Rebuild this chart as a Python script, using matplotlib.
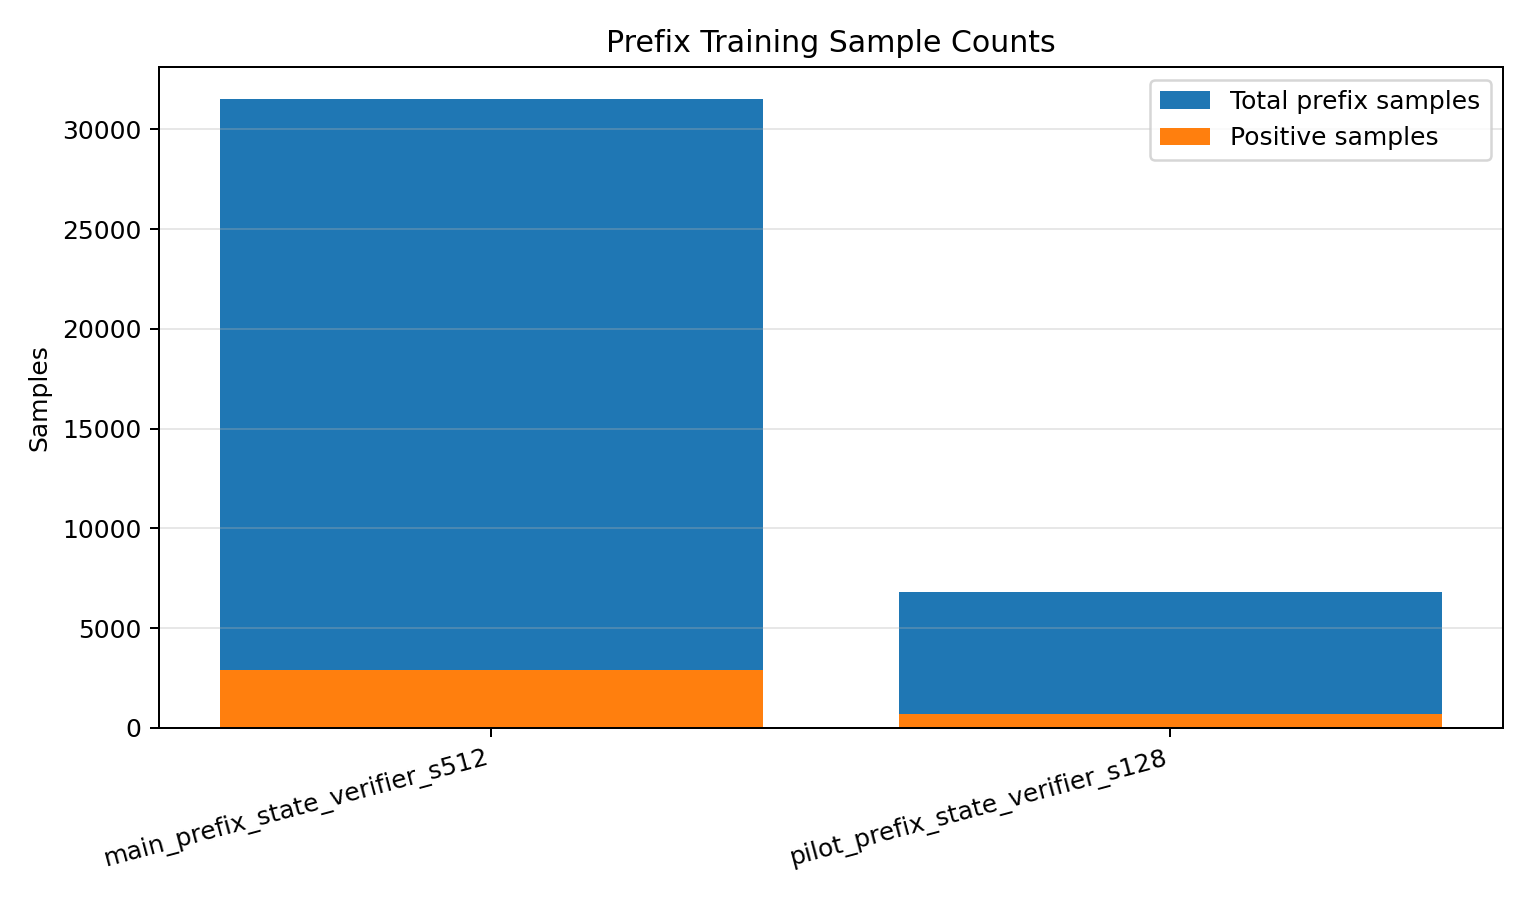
from matplotlib import pyplot as plt

runs = ["main_prefix_state_verifier_s512", "pilot_prefix_state_verifier_s128"]
total_samples = [31540, 6800]
positive_samples = [2895, 690]

fig, ax = plt.subplots(figsize=(8.5, 5))
x = list(range(len(runs)))
ax.bar(x, total_samples, label="Total prefix samples", color="#1f77b4")
ax.bar(x, positive_samples, label="Positive samples", color="#ff7f0e")

ax.set_xticks(x)
ax.set_xticklabels(runs, rotation=15, ha="right")
ax.set_ylabel("Samples")
ax.set_title("Prefix Training Sample Counts")
ax.grid(axis="y", alpha=0.3)
ax.legend(loc="upper right")

plt.tight_layout()
plt.savefig("out.png", dpi=180)
